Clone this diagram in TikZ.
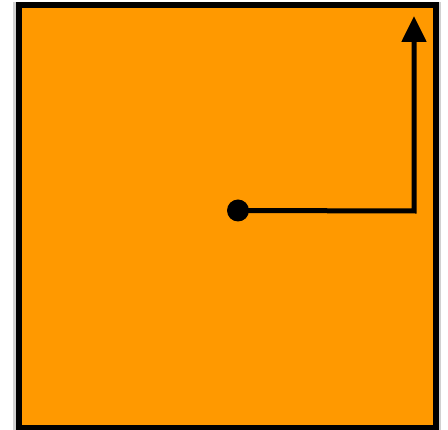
\documentclass[tikz,border=0pt]{standalone}
\usetikzlibrary{arrows.meta}
\definecolor{boxorange}{RGB}{255,153,0}
\tikzset{
  boxstyle/.style={draw=black, fill=boxorange, line width=6pt},
  dotstyle/.style={circle, fill=black, inner sep=0pt, minimum size=22pt},
  arrowline/.style={draw=black, line width=5pt, miter limit=10, -{Triangle[length=26pt,width=24pt]}}
}
\begin{document}
\begin{tikzpicture}[x=1pt,y=-1pt]
\useasboundingbox (0,0) rectangle (448,430);
\fill[black!18] (13,2) rectangle (441,430);
\path[boxstyle] (19,5) rectangle (435.5,428.5);
\node[dotstyle] (dot) at (238,210.5) {};
\coordinate (corner) at (414,211);
\coordinate (tip) at (414,16);
\draw[arrowline] (dot.center) -- (corner) -- (tip);
\end{tikzpicture}
\end{document}
